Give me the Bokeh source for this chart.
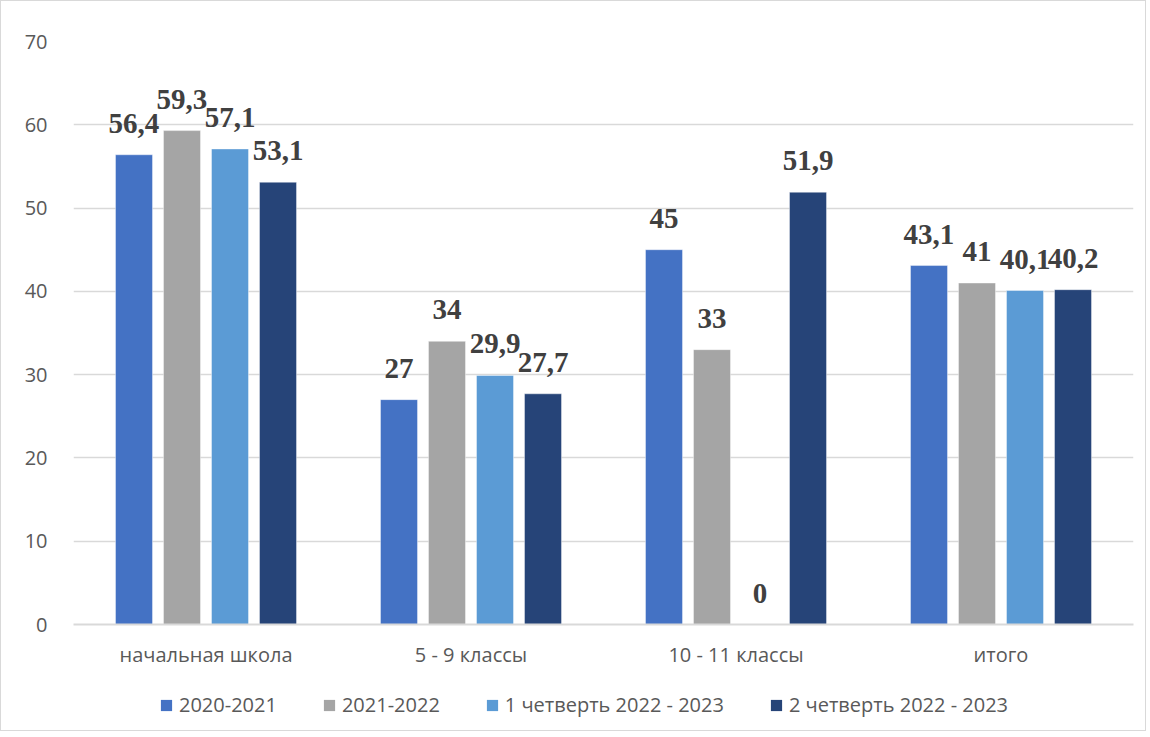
from bokeh.plotting import figure
from bokeh.layouts import column
from bokeh.models import (FactorRange, Range1d, FixedTicker, LabelSet, ColumnDataSource,
                          Legend, LegendItem)
from bokeh.transform import dodge
from bokeh.core.properties import value
from bokeh.embed import file_html
from bokeh.resources import INLINE

categories = ["начальная школа", "5 - 9 классы", "10 - 11 классы", "итого"]
series_names = ["2020-2021", "2021-2022", "1 четверть 2022 - 2023", "2 четверть 2022 - 2023"]
s2020_2021 = [56.4, 27, 45, 43.1]
s2021_2022 = [59.3, 34, 33, 41]
q1_2022_2023 = [57.1, 29.9, 0, 40.1]
q2_2022_2023 = [53.1, 27.7, 51.9, 40.2]
y_ticks = [0, 10, 20, 30, 40, 50, 60, 70]

colors = ["#4472C4", "#A5A5A5", "#5B9BD5", "#264478"]
offsets = [-0.2717, -0.0906, 0.0906, 0.2717]
series = [s2020_2021, s2021_2022, q1_2022_2023, q2_2022_2023]

def fmt(v):
    s = ("%g" % v)
    return s.replace(".", ",")

p = figure(x_range=FactorRange(factors=categories, range_padding=0),
           y_range=Range1d(0, 70), frame_width=1060, frame_height=583,
           output_backend="svg", toolbar_location=None,
           min_border_left=72, min_border_right=12, min_border_top=40, min_border_bottom=0)
p.outline_line_color = None
p.background_fill_color = "white"

# legend-only strip below the chart (its bars lie far outside its y range)
p2 = figure(x_range=p.x_range, y_range=Range1d(1000, 1001), frame_width=1060, frame_height=60,
            output_backend="svg", toolbar_location=None,
            min_border_left=72, min_border_right=12, min_border_top=0, min_border_bottom=0)
p2.outline_line_color = None
p2.axis.visible = False
p2.grid.grid_line_color = None

legend_renderers = []
for i, (name, vals) in enumerate(zip(series_names, series)):
    src = ColumnDataSource(dict(cat=categories, val=vals, lab=[fmt(v) for v in vals]))
    p.vbar(x=dodge("cat", offsets[i], range=p.x_range), top="val", width=0.1396,
           source=src, fill_color=colors[i], line_color="#FFFFFF", line_alpha=0.4, line_width=1)
    r2 = p2.vbar(x=dodge("cat", offsets[i], range=p.x_range), top="val", width=0.1396,
                 source=src, fill_color=colors[i], line_color=None)
    legend_renderers.append(r2)
    labels = LabelSet(x=dodge("cat", offsets[i], range=p.x_range), y="val", text="lab",
                      source=src, text_align="center", text_baseline="alphabetic",
                      y_offset=22, text_font=value("Liberation Serif"),
                      text_font_style="bold", text_font_size="29px", text_color="#404040")
    p.add_layout(labels)

p.yaxis.ticker = FixedTicker(ticks=y_ticks)
p.yaxis.axis_line_color = None
p.yaxis.major_tick_line_color = None
p.yaxis.minor_tick_line_color = None
p.yaxis.major_label_standoff = 20
p.yaxis.major_label_text_font = "Open Sans"
p.yaxis.major_label_text_font_size = "20px"
p.yaxis.major_label_text_color = "#595959"

p.xaxis.axis_line_color = "#D9D9D9"
p.xaxis.axis_line_width = 2
p.xaxis.major_tick_line_color = None
p.xaxis.minor_tick_line_color = None
p.xaxis.major_label_standoff = 10
p.xaxis.major_label_text_font = "Open Sans"
p.xaxis.major_label_text_font_size = "20px"
p.xaxis.major_label_text_color = "#595959"

p.xgrid.grid_line_color = None
p.ygrid.grid_line_color = "#D9D9D9"
p.ygrid.grid_line_width = 1.5

legend = Legend(items=[LegendItem(label=n, renderers=[r]) for n, r in zip(series_names, legend_renderers)],
                orientation="horizontal", location=(86, 12),
                label_text_font="Open Sans", label_text_font_size="20px",
                label_text_color="#595959", glyph_width=14, glyph_height=14,
                spacing=45, label_standoff=6, border_line_color=None,
                background_fill_alpha=0, margin=0, padding=4)
p2.add_layout(legend, "center")

layout = column(p, p2, spacing=0, styles={"border": "1px solid #D9D9D9"})
open("out.html", "w").write(file_html(layout, INLINE))
